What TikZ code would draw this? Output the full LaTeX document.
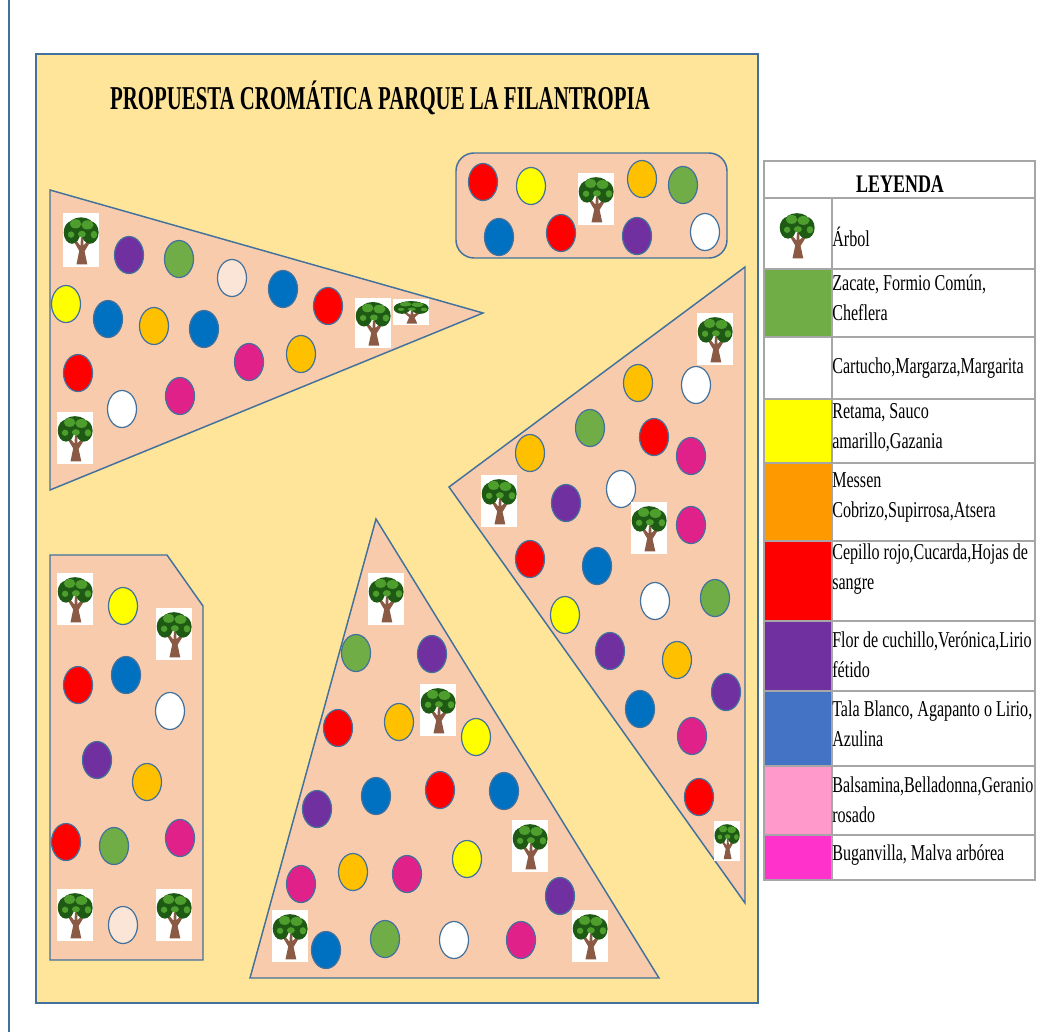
\documentclass[tikz,border=0pt]{standalone}
\usepackage{graphicx}
\usepackage{fontspec}
\setmainfont{Liberation Serif}
\definecolor{bgY}{HTML}{FFE599}
\definecolor{peach}{HTML}{F8CBAD}
\definecolor{edgeB}{HTML}{41719C}
\definecolor{cY}{HTML}{FFFF00}
\definecolor{cB}{HTML}{0070C0}
\definecolor{cO}{HTML}{FFC000}
\definecolor{cG}{HTML}{70AD47}
\definecolor{cP}{HTML}{7030A0}
\definecolor{cR}{HTML}{FF0000}
\definecolor{cM}{HTML}{E0218A}
\definecolor{cW}{HTML}{FFFFFF}
\definecolor{cL}{HTML}{FBE5D6}
\definecolor{gridG}{HTML}{A6A6A6}
\definecolor{swO}{HTML}{FF9900}
\definecolor{swB}{HTML}{4472C4}
\definecolor{swK}{HTML}{FF99CC}
\definecolor{swM}{HTML}{FF33CC}
\definecolor{leafD}{HTML}{1E5A14}
\definecolor{leafL}{HTML}{4E9E2E}
\definecolor{trunk}{HTML}{8A5A44}
\tikzset{
  area/.style={fill=peach,draw=edgeB,line width=1.1pt,line join=miter},
  blob/.style={draw=edgeB,line width=0.9pt},
  legtext/.style={anchor=west,inner sep=0pt,align=left,font=\fontsize{17}{22.5}\selectfont,text=black},
  gridline/.style={draw=gridG,line width=1.1pt},
}
\newcommand{\sx}[1]{\scalebox{0.71}[1]{#1}}
% tree picture: centre x,y, width, height (pixels)
\newcommand{\treepic}[4]{%
  \begin{scope}[shift={(#1,#2)},x=#3*0.375pt,y=-#4*0.375pt]
    \fill[white] (-1,-1) rectangle (1,1);
    \fill[trunk] (-0.25,0.9) -- (-0.1,0.4) -- (-0.4,0.05) -- (-0.28,0) -- (-0.03,0.22) -- (0,-0.1) -- (0.12,-0.1) -- (0.14,0.2) -- (0.42,0) -- (0.5,0.08) -- (0.2,0.42) -- (0.35,0.9) -- cycle;
    \fill[leafD] (-0.5,-0.28) ellipse (0.46 and 0.42);
    \fill[leafD] (0.5,-0.28) ellipse (0.48 and 0.42);
    \fill[leafD] (0,-0.5) ellipse (0.72 and 0.34);
    \fill[leafL] (-0.3,-0.6) ellipse (0.32 and 0.17);
    \fill[leafL] (0.36,-0.56) ellipse (0.34 and 0.17);
    \fill[leafL] (0.05,-0.22) ellipse (0.22 and 0.12);
    \fill[leafL] (-0.55,-0.2) ellipse (0.18 and 0.12);
    \fill[leafL] (0.72,-0.2) ellipse (0.18 and 0.14);
  \end{scope}}
\newcommand{\blobat}[3]{\fill[#3,blob] (#1,#2) ellipse (14.5 and 18.5);}
\begin{document}
\begin{tikzpicture}[x=0.75pt,y=-0.75pt]
\useasboundingbox (0,0) rectangle (1060,1032);
\fill[white] (0,0) rectangle (1060,1032);
\draw[edgeB,line width=1pt] (9,0) -- (9,1032);
\draw[fill=bgY,draw=edgeB,line width=1pt] (36,54) rectangle (758,1003);
\node[inner sep=0pt,font=\bfseries\fontsize{25}{28}\selectfont] (title) at (380,98) {\scalebox{0.625}[1]{PROPUESTA CROMÁTICA PARQUE LA FILANTROPIA}};
% areas
\draw[area,rounded corners=13.5pt] (456,153) rectangle (727,258);
\draw[area] (50,190) -- (483,313) -- (50,490) -- cycle;
\draw[area] (745,267) -- (449,487) -- (745,903) -- cycle;
\draw[area] (376,519) -- (659,978) -- (250,978) -- cycle;
\draw[area] (50,555) -- (167,555) -- (203,606) -- (203,960) -- (50,960) -- cycle;
% blobs
\foreach \x/\y/\c in {
 483/182/cR,531/186/cY,642/179/cO,683/185/cG,499/237/cB,561/233/cR,637/236/cP,705/232/cW,
 129/255/cP,179/259/cG,232/278/cL,283/289/cB,328/306/cR,66/304/cY,108/319/cB,154/326/cO,204/329/cB,249/362/cM,301/354/cO,78/373/cR,122/409/cW,180/396/cM,
 638/383/cO,696/385/cW,590/428/cG,654/437/cR,691/456/cM,530/453/cO,566/503/cP,621/489/cW,691/525/cM,530/559/cR,597/566/cB,565/615/cY,655/601/cW,715/598/cG,610/651/cP,677/660/cO,726/692/cP,640/709/cB,692/736/cM,699/797/cR,
 356/653/cG,432/654/cP,338/728/cR,399/722/cO,476/737/cY,317/809/cP,376/796/cB,440/790/cR,504/791/cB,301/884/cM,353/872/cO,407/874/cM,467/859/cY,560/896/cP,326/950/cB,385/939/cG,454/940/cW,521/940/cM,
 123/606/cY,78/685/cR,126/675/cB,170/711/cW,97/760/cP,147/782/cO,66/842/cR,114/846/cG,180/838/cM,123/925/cL}
 {\blobat{\x}{\y}{\c}}
% trees
\foreach \x/\y/\w/\h in {
 596/199/36/52,
 81/240/36/54,373/323/36/50,411/312/36/26,75/438/36/52,
 715/339/36/52,499/501/36/52,649/528/36/52,727/841/26/40,
 386/599/36/52,438/710/36/52,530/846/36/52,590/936/36/52,290/936/36/52,
 75/599/36/52,174/634/36/52,75/915/36/52,174/915/36/52}
 {\treepic{\x}{\y}{\w}{\h}}
% legend
\fill[white] (764,161) rectangle (1035,880);
\fill[cG]   (764,269) rectangle (832,337);
\fill[cY]   (764,399) rectangle (832,463);
\fill[swO]  (764,463) rectangle (832,541);
\fill[cR]   (764,541) rectangle (832,621);
\fill[cP]   (764,621) rectangle (832,691);
\fill[swB]  (764,691) rectangle (832,766);
\fill[swK]  (764,766) rectangle (832,835);
\fill[swM]  (764,835) rectangle (832,880);
\treepic{797}{235}{36}{52}
\foreach \y in {198,269,337,399,463,541,621,691,766,835}
  {\draw[gridline] (764,\y) -- (1035,\y);}
\draw[gridline] (832,198) -- (832,880);
\draw[gridline] (764,161) rectangle (1035,880);
\node[inner sep=0pt,font=\bfseries\fontsize{19}{22}\selectfont] (leyenda) at (900,184) {\sx{LEYENDA}};
\node[legtext] (t1) at (832,237) {\sx{Árbol}};
\node[legtext] (t2) at (832,298) {\sx{Zacate, Formio Común,}\\\sx{Cheflera}};
\node[legtext] (t3) at (832,368) {\sx{Cartucho,Margarza,Margarita}};
\node[legtext] (t4) at (832,428) {\sx{Retama, Sauco}\\\sx{amarillo,Gazania}};
\node[legtext] (t5) at (832,497) {\sx{Messen}\\\sx{Cobrizo,Supirrosa,Atsera}};
\node[legtext] (t6) at (832,569) {\sx{Cepillo rojo,Cucarda,Hojas de}\\\sx{sangre}};
\node[legtext] (t7) at (832,655) {\sx{Flor de cuchillo,Verónica,Lirio}\\\sx{fétido}};
\node[legtext] (t8) at (832,724) {\sx{Tala Blanco, Agapanto o Lirio,}\\\sx{Azulina}};
\node[legtext] (t9) at (832,800) {\sx{Balsamina,Belladonna,Geranio}\\\sx{rosado}};
\node[legtext] (t10) at (832,855) {\sx{Buganvilla, Malva arbórea}};
\end{tikzpicture}
\end{document}
